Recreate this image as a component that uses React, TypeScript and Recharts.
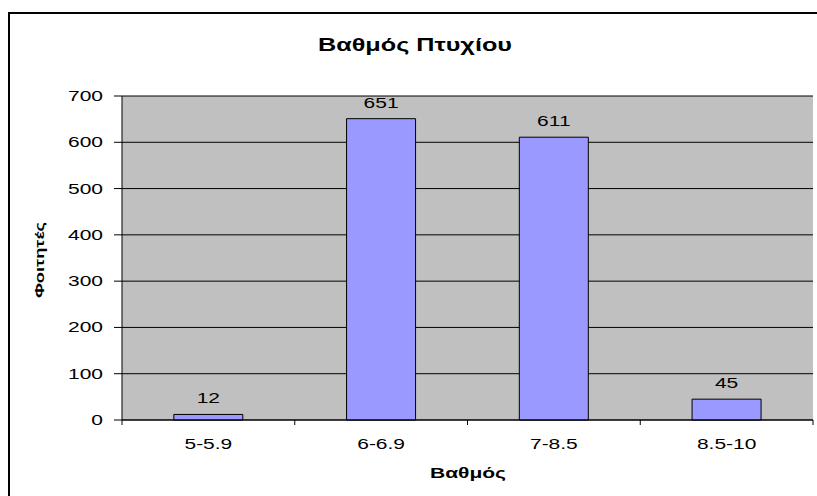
import React from 'react';
import { BarChart, Bar, XAxis, YAxis, CartesianGrid, LabelList } from 'recharts';

const grades = ['5-5.9', '6-6.9', '7-8.5', '8.5-10'];
const students = [12, 651, 611, 45];
const yTicks = [0, 100, 200, 300, 400, 500, 600, 700];

const data = grades.map((g, i) => ({ grade: g, students: students[i] }));

const FONT = '"Liberation Sans", Arial, sans-serif';
const STRETCH = 1.4;

const CHART_W = 820;
const CHART_H = 480;
const MARGIN = { top: 82, right: 17, left: 50, bottom: 44 };
const Y_AXIS_W = 62;
const X_AXIS_H = 30;
const PLOT_LEFT = MARGIN.left + Y_AXIS_W;
const PLOT_RIGHT = CHART_W - MARGIN.right;
const PLOT_BOTTOM = CHART_H - MARGIN.bottom - X_AXIS_H;
const BAND = (PLOT_RIGHT - PLOT_LEFT) / grades.length;

const YTick = (props: any) => {
  const { x, y, payload } = props;
  return (
    <text
      transform={`translate(${x},${y}) scale(${STRETCH},1)`}
      textAnchor="end"
      dy={5}
      fontSize={15}
      fontFamily={FONT}
      fill="#000"
    >
      {payload.value}
    </text>
  );
};

const XTick = (props: any) => {
  const { x, payload, index } = props;
  const left = x - BAND / 2;
  const right = x + BAND / 2;
  return (
    <g>
      <line x1={left} y1={PLOT_BOTTOM} x2={left} y2={PLOT_BOTTOM + 5} stroke="#000" />
      {index === grades.length - 1 && (
        <line x1={right} y1={PLOT_BOTTOM} x2={right} y2={PLOT_BOTTOM + 5} stroke="#000" />
      )}
      <text
        transform={`translate(${x},${PLOT_BOTTOM + 29}) scale(${STRETCH},1)`}
        textAnchor="middle"
        fontSize={15}
        fontFamily={FONT}
        fill="#000"
      >
        {payload.value}
      </text>
    </g>
  );
};

const BarValue = (props: any) => {
  const { x, y, width, value } = props;
  return (
    <text
      transform={`translate(${x + width / 2},${y - 11}) scale(${STRETCH},1)`}
      textAnchor="middle"
      fontSize={15}
      fontFamily={FONT}
      fill="#000"
    >
      {value}
    </text>
  );
};

export default function App() {
  return (
    <div style={{ position: 'fixed', left: 0, top: 0, width: 817, height: 496, overflow: 'hidden', background: '#fff' }}>
      <div
        style={{
          position: 'absolute',
          left: 8,
          top: 12,
          width: 830,
          height: 500,
          borderTop: '2px solid #000',
          borderLeft: '2px solid #000',
          fontFamily: FONT,
        }}
      >
        <div
          style={{
            position: 'absolute',
            left: 0,
            top: 20,
            width: 810,
            textAlign: 'center',
            fontSize: 18,
            fontWeight: 'bold',
            lineHeight: '22px',
            transform: `scaleX(${STRETCH})`,
          }}
        >
          Βαθμός Πτυχίου
        </div>
        <div
          style={{
            position: 'absolute',
            left: 30,
            top: 246,
            fontSize: 13,
            fontWeight: 'bold',
            lineHeight: '16px',
            whiteSpace: 'nowrap',
            transform: `translate(-50%,-50%) rotate(-90deg) scaleX(${STRETCH})`,
          }}
        >
          Φοιτητές
        </div>
        <div
          style={{
            position: 'absolute',
            left: 458,
            top: 459,
            fontSize: 15,
            fontWeight: 'bold',
            lineHeight: '18px',
            whiteSpace: 'nowrap',
            transform: `translate(-50%,-50%) scaleX(${STRETCH})`,
          }}
        >
          Βαθμός
        </div>
        <BarChart width={CHART_W} height={CHART_H} data={data} margin={MARGIN} barCategoryGap="30%">
          <CartesianGrid fill="#C0C0C0" stroke="#000" vertical={false} strokeOpacity={1} />
          <XAxis
            dataKey="grade"
            height={X_AXIS_H}
            tick={XTick}
            tickLine={false}
            axisLine={{ stroke: '#000' }}
            interval={0}
          />
          <YAxis
            width={Y_AXIS_W}
            domain={[0, 700]}
            ticks={yTicks}
            tick={YTick}
            tickSize={8}
            tickMargin={11}
            tickLine={{ stroke: '#000' }}
            axisLine={{ stroke: '#000' }}
          />
          <YAxis
            yAxisId="r"
            orientation="right"
            width={0}
            tick={false}
            tickLine={false}
            axisLine={{ stroke: '#808080', strokeWidth: 2 }}
          />
          <Bar dataKey="students" fill="#9999FF" stroke="#000" strokeWidth={1} isAnimationActive={false}>
            <LabelList dataKey="students" content={BarValue} />
          </Bar>
        </BarChart>
      </div>
    </div>
  );
}
